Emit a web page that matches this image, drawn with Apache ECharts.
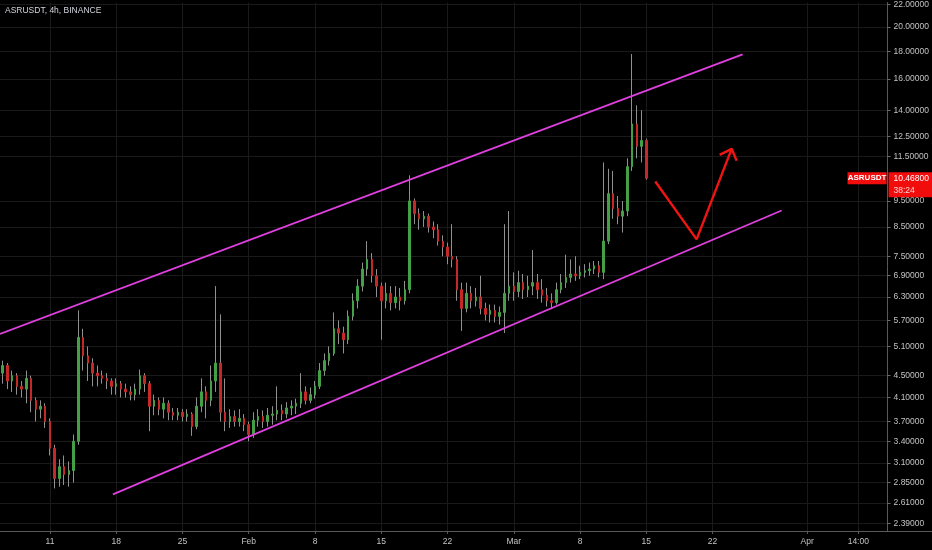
<!DOCTYPE html>
<html>
<head>
<meta charset="utf-8">
<script src="https://cdn.jsdelivr.net/npm/echarts@6/dist/echarts.min.js"></script>
<style>
html,body{margin:0;padding:0;background:#000;}
#chart{width:932px;height:550px;}
</style>
</head>
<body>
<div id="chart"></div>
<script>
// ---- data ----
const titleText = 'ASRUSDT, 4h, BINANCE';
const symbol = 'ASRUSDT';
const countdown = '38:24';
// candle times: day-of-year 2021 (Jan 1 = 0), one candle every half day
const firstDay = 5;
const stepDays = 0.5;
const opens = [4.55,4.70,4.40,4.50,4.30,4.25,4.45,4.05,3.90,3.95,3.70,3.30,2.90,3.05,2.95,3.00,3.40,5.30,4.90,4.75,
  4.55,4.50,4.45,4.40,4.30,4.35,4.25,4.20,4.15,4.25,4.50,4.35,3.95,4.05,3.90,4.00,3.85,3.80,3.85,3.78,
  3.82,3.62,3.95,4.20,4.05,4.40,4.75,3.85,3.70,3.78,3.70,3.75,3.65,3.50,3.72,3.78,3.70,3.80,3.82,3.88,
  3.82,3.92,3.95,4.00,4.20,4.05,4.15,4.30,4.60,4.80,4.95,5.50,5.40,5.25,5.80,6.20,6.60,7.10,7.40,6.90,
  6.60,6.20,6.40,6.15,6.30,6.20,6.50,9.50,9.00,8.80,8.90,8.50,8.40,8.00,7.80,7.50,7.40,6.50,6.00,6.40,
  6.20,6.30,6.00,5.85,5.95,5.80,5.90,6.40,6.60,6.45,6.70,6.50,6.60,6.70,6.50,6.35,6.20,6.15,6.50,6.70,
  6.85,6.95,6.90,7.00,7.05,7.10,7.20,7.00,8.00,9.80,9.20,8.90,9.10,11.00,13.20,12.00,12.30];
const closes = [4.70,4.40,4.50,4.30,4.25,4.45,4.05,3.90,3.95,3.70,3.30,2.90,3.05,2.95,3.00,3.40,5.30,4.90,4.75,4.55,
  4.50,4.45,4.40,4.30,4.35,4.25,4.20,4.15,4.25,4.50,4.35,3.95,4.05,3.90,4.00,3.85,3.80,3.85,3.78,3.82,
  3.62,3.95,4.20,4.05,4.40,4.75,3.85,3.70,3.78,3.70,3.75,3.65,3.50,3.72,3.78,3.70,3.80,3.82,3.88,3.82,
  3.92,3.95,4.00,4.20,4.05,4.15,4.30,4.60,4.80,4.95,5.50,5.40,5.25,5.80,6.20,6.60,7.10,7.40,6.90,6.60,
  6.20,6.40,6.15,6.30,6.20,6.50,9.50,9.00,8.80,8.90,8.50,8.40,8.00,7.80,7.50,7.40,6.50,6.00,6.40,6.20,
  6.30,6.00,5.85,5.95,5.80,5.90,6.40,6.60,6.45,6.70,6.50,6.60,6.70,6.50,6.35,6.20,6.15,6.50,6.70,6.85,
  6.95,6.90,7.00,7.05,7.10,7.20,7.00,8.00,9.80,9.20,8.90,9.10,11.00,13.20,12.00,12.30,10.468];
const lows = [4.35,4.25,4.20,4.15,4.10,4.00,3.85,3.70,3.75,3.60,3.20,2.78,2.80,2.82,2.80,2.85,3.35,4.60,4.40,4.30,
  4.30,4.35,4.25,4.15,4.15,4.10,4.10,4.05,4.05,4.15,4.20,3.55,3.80,3.80,3.75,3.72,3.72,3.72,3.70,3.70,
  3.48,3.58,3.85,3.75,3.95,4.20,3.70,3.55,3.60,3.62,3.62,3.55,3.40,3.45,3.62,3.60,3.62,3.65,3.72,3.72,
  3.75,3.80,3.82,3.92,3.98,4.00,4.08,4.25,4.50,4.70,4.90,5.15,4.95,5.15,5.70,6.00,6.45,6.90,6.70,6.30,
  5.25,6.00,5.95,6.00,5.95,6.10,6.40,8.60,8.40,8.50,8.30,8.10,7.85,7.50,7.25,7.15,6.20,5.45,5.90,6.00,
  6.05,5.85,5.70,5.65,5.65,5.60,5.40,6.20,6.20,6.30,6.25,6.30,6.35,6.25,6.15,6.05,5.98,6.10,6.40,6.55,
  6.70,6.75,6.80,6.85,6.90,6.95,6.85,6.80,7.90,8.80,8.60,8.30,8.90,10.80,11.40,11.20,10.40];
const highs = [4.80,4.75,4.60,4.55,4.40,4.60,4.50,4.10,4.05,4.00,3.75,3.35,3.15,3.20,3.12,3.50,5.95,5.50,5.10,4.85,
  4.70,4.60,4.55,4.45,4.45,4.40,4.35,4.30,4.35,4.62,4.55,4.40,4.15,4.10,4.10,4.05,3.92,3.92,3.90,3.90,
  3.85,4.10,4.45,4.30,4.70,6.60,5.85,4.45,3.90,3.88,3.90,3.82,3.70,3.85,3.90,3.88,3.92,3.95,4.30,3.98,
  4.02,4.05,4.08,4.55,4.30,4.28,4.40,4.75,4.95,5.10,5.90,5.70,5.55,5.95,6.40,6.80,7.30,8.00,7.60,7.10,
  6.70,6.70,6.60,6.60,6.55,6.75,10.60,9.60,9.20,9.10,9.00,8.70,8.60,8.20,7.95,8.60,7.50,6.70,6.70,6.60,
  6.55,6.90,6.15,6.10,6.10,6.05,8.60,9.10,7.00,7.05,6.95,6.90,7.70,6.95,6.80,6.55,6.40,6.70,6.95,7.55,
  7.40,7.50,7.20,7.25,7.30,7.35,7.35,11.20,10.90,10.80,9.70,9.50,11.40,17.80,14.30,14.00,12.40];
// price-axis labels and date-axis labels
const priceTicks = [2.39,2.61,2.85,3.1,3.4,3.7,4.1,4.5,5.1,5.7,6.3,6.9,7.5,8.5,9.5,11.5,12.5,14,16,18,20,22];
const dateTickDays = [10,17,24,31,38,45,52,59,66,73,80,90,95.4];
const dateTickLabels = ['11','18','25','Feb','8','15','22','Mar','8','15','22','Apr','14:00'];
// drawn channel lines and projection arrow [day, price]
const upperChannel = [[4.72,5.38],[83.18,17.78]];
const lowerChannel = [[16.65,2.71],[87.30,9.12]];
const arrowPath = [[73.95,10.32],[78.32,8.06],[82.02,11.87]];
const arrowHead = [[80.75,11.57],[82.02,11.87],[82.55,11.28]];

// ---- build ----
const wickData = opens.map((o,i)=>[firstDay+i*stepDays, o, closes[i], lows[i], highs[i]]);
const bodyData = opens.map((o,i)=>[firstDay+i*stepDays, o, closes[i], Math.min(o,closes[i]), Math.max(o,closes[i])]);

const FONT = 'Liberation Sans, Arial, sans-serif';
const labelColor = '#c3c3c3';
const gridColor = '#1a1a1a';

const chart = echarts.init(document.getElementById('chart'), null, {renderer:'canvas'});
chart.setOption({
  animation: false,
  backgroundColor: '#000000',
  title: {
    text: titleText, left: 5, top: 6, padding: 0,
    textStyle: {color:'#d1d4dc', fontSize: 8.5, fontWeight:'normal', fontFamily: FONT}
  },
  grid: {left: 0, right: 44, top: 0, bottom: 19, containLabel: false},
  xAxis: {
    type: 'value', min: 4.72, max: 98.49,
    axisLine: {show: true, lineStyle: {color:'#5a5a5a'}},
    axisTick: {show: true, length: 3, lineStyle: {color:'#5a5a5a'}, customValues: dateTickDays},
    axisLabel: {
      color: labelColor, fontSize: 8.5, fontFamily: FONT, margin: 6,
      customValues: dateTickDays,
      formatter: v => { const k = dateTickDays.indexOf(v); return k >= 0 ? dateTickLabels[k] : ''; }
    },
    splitLine: {show: true, lineStyle: {color: gridColor, width: 1}}
  },
  yAxis: {
    type: 'log', logBase: 10, position: 'right', min: 2.317, max: 22.19,
    axisLine: {show: true, lineStyle: {color:'#5a5a5a'}},
    axisTick: {show: true, length: 3, lineStyle: {color:'#6a6a6a'}, customValues: priceTicks},
    axisLabel: {
      color: labelColor, fontSize: 8.5, fontFamily: FONT, margin: 6,
      customValues: priceTicks,
      formatter: v => Number(v).toFixed(5)
    },
    splitLine: {show: true, lineStyle: {color: gridColor, width: 1}}
  },
  series: [
    {
      name: 'wick', type: 'candlestick', data: wickData, barWidth: 0.01, silent: true,
      itemStyle: {color:'#909090', color0:'#909090', borderColor:'#909090', borderColor0:'#909090', borderWidth: 1}
    },
    {
      name: 'body', type: 'candlestick', data: bodyData, barWidth: 2, silent: true,
      itemStyle: {color:'#43a047', color0:'#c62828', borderColor:'#43a047', borderColor0:'#c62828', borderWidth: 1}
    },
    {
      type: 'line', data: upperChannel, symbol: 'none', silent: true,
      lineStyle: {color:'#e040e0', width: 1.8}
    },
    {
      type: 'line', data: lowerChannel, symbol: 'none', silent: true,
      lineStyle: {color:'#e040e0', width: 1.8}
    },
    {
      type: 'line', data: arrowPath, symbol: 'none', silent: true,
      lineStyle: {color:'#f01414', width: 2.4}
    },
    {
      type: 'line', data: arrowHead, symbol: 'none', silent: true,
      lineStyle: {color:'#f01414', width: 2.4}
    }
  ]
});

// last-price tags on the price axis, and the time-axis line continued under the price scale
const lastClose = closes[closes.length - 1];
const yc = chart.convertToPixel({yAxisIndex: 0}, lastClose);
const axisX = chart.convertToPixel({xAxisIndex: 0}, 98.49);
const axisY = chart.convertToPixel({yAxisIndex: 0}, 2.317);
const W = chart.getWidth();
chart.setOption({
  graphic: [
    {type:'line', shape:{x1: axisX, y1: axisY + 0.5, x2: W, y2: axisY + 0.5}, style:{stroke:'#5a5a5a', lineWidth: 1}, z: 50},
    {type:'rect', shape:{x: axisX - 40, y: yc - 6, width: 39, height: 12}, style:{fill:'#f20d0d'}, z: 100},
    {type:'text', x: axisX - 20.5, y: yc, style:{text: symbol, fill:'#ffffff', font:'bold 8px ' + FONT, align:'center', verticalAlign:'middle'}, z: 101},
    {type:'rect', shape:{x: axisX + 1, y: yc - 6, width: W - axisX - 1, height: 25}, style:{fill:'#f20d0d'}, z: 100},
    {type:'text', x: axisX + 6, y: yc, style:{text: lastClose.toFixed(5), fill:'#ffffff', font:'8.5px ' + FONT, align:'left', verticalAlign:'middle'}, z: 101},
    {type:'text', x: axisX + 6, y: yc + 12.5, style:{text: countdown, fill:'#ffd2d2', font:'8.5px ' + FONT, align:'left', verticalAlign:'middle'}, z: 101}
  ]
});
</script>
</body>
</html>
